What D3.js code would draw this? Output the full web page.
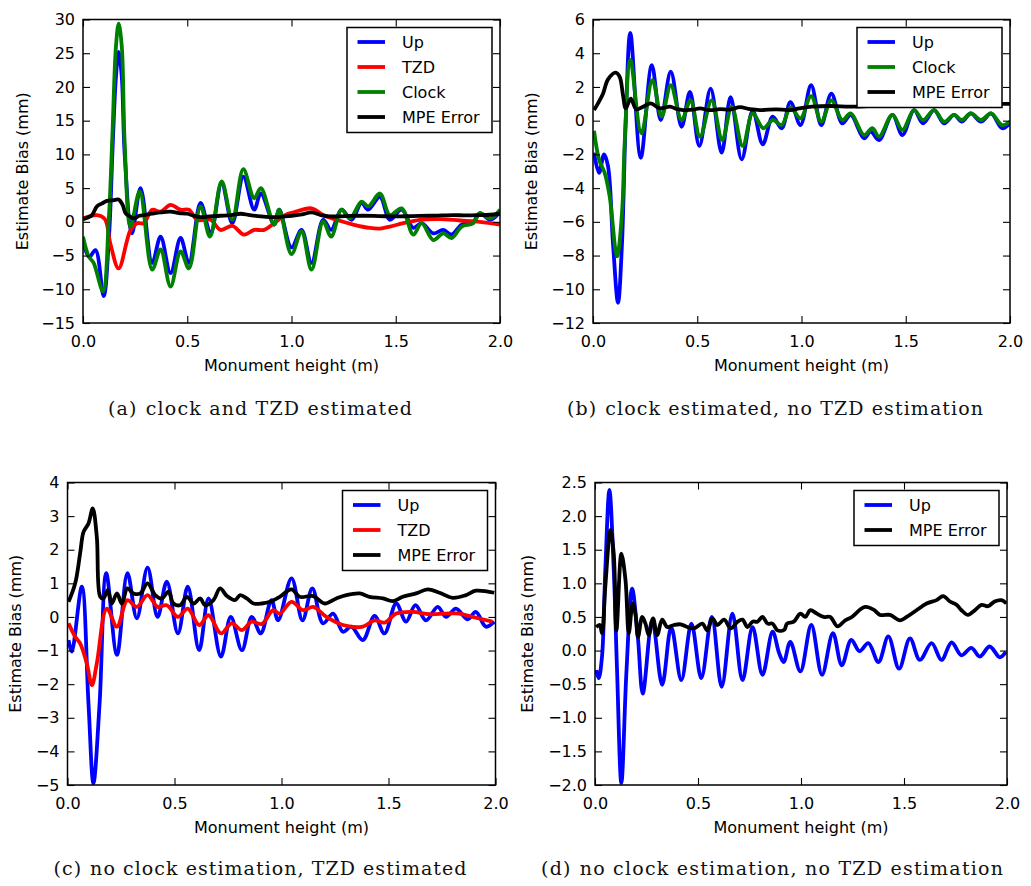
<!DOCTYPE html>
<html>
<head>
<meta charset="utf-8">
<script src="https://cdn.jsdelivr.net/npm/d3@7"></script>
<style>
  body { margin: 0; background: #fff; }
  svg { display: block; }
</style>
</head>
<body>
<svg id="fig" width="1031" height="886"></svg>
<script>
// ---- shared axis values ----
const xTicks = [0, 0.5, 1.0, 1.5, 2.0];
const aYTicks = [-15, -10, -5, 0, 5, 10, 15, 20, 25, 30];
const bYTicks = [-12, -10, -8, -6, -4, -2, 0, 2, 4, 6];
const cYTicks = [-5, -4, -3, -2, -1, 0, 1, 2, 3, 4];
const dYTicks = [-2.0, -1.5, -1.0, -0.5, 0.0, 0.5, 1.0, 1.5, 2.0, 2.5];

const seriesNames = ["Up", "TZD", "Clock", "MPE Error"];
const captions = [
  ["(a)", "clock and TZD estimated"],
  ["(b)", "clock estimated, no TZD estimation"],
  ["(c)", "no clock estimation, TZD estimated"],
  ["(d)", "no clock estimation, no TZD estimation"]
];

// ---- (a) clock and TZD estimated: [monument height m, bias mm] ----
const aUp = [[0.0,-3.0],[0.03,-5.2],[0.06,-4.2],[0.099,-11.0],[0.125,-2],[0.142,11],[0.158,21.5],[0.171,25.2],[0.186,21.5],[0.2,10],[0.235,-1.7],[0.276,5.0],[0.332,-6.1],[0.372,-2.2],[0.42,-7.6],[0.468,-2.4],[0.508,-6.1],[0.564,2.8],[0.612,-1.7],[0.665,5.7],[0.716,-0.2],[0.769,6.7],[0.821,1.8],[0.853,4.2],[0.917,-0.4],[0.941,1.8],[1.0,-3.8],[1.048,-1.2],[1.096,-6.1],[1.152,0.3],[1.19,-1.2],[1.24,1.8],[1.288,0.3],[1.336,2.8],[1.368,1.8],[1.424,3.7],[1.472,0.3],[1.528,1.8],[1.584,-0.9],[1.624,-0.2],[1.68,-1.7],[1.728,-1.2],[1.768,-1.9],[1.816,-0.4],[1.872,0.05],[1.904,1.3],[1.952,0.3],[2.0,1.5]];
const aTZD = [[0.0,0.5],[0.067,1.0],[0.105,0.4],[0.131,-3.2],[0.171,-6.9],[0.228,-1.2],[0.26,-0.2],[0.292,-0.2],[0.332,1.8],[0.372,1.5],[0.42,2.5],[0.468,1.8],[0.508,1.8],[0.548,0.3],[0.612,0.3],[0.66,-1.2],[0.716,-0.6],[0.772,-1.9],[0.821,-1.2],[0.869,-1.2],[0.917,-0.2],[0.97,1.0],[1.01,1.4],[1.096,2.0],[1.152,1.0],[1.216,0.3],[1.296,-0.4],[1.376,-0.9],[1.424,-1.0],[1.472,-0.7],[1.536,-0.2],[1.616,0.3],[1.712,0.4],[1.808,0.2],[1.904,0.0],[2.0,-0.4]];
const aClock = [[0.0,-2.2],[0.027,-5.1],[0.051,-6.1],[0.096,-10.3],[0.123,0],[0.14,12],[0.158,26],[0.171,29.4],[0.186,26],[0.2,11.6],[0.228,-0.7],[0.272,4.5],[0.332,-7.1],[0.372,-4.1],[0.42,-9.6],[0.468,-4.4],[0.508,-6.9],[0.564,2.3],[0.609,-2.2],[0.665,6.0],[0.716,0.3],[0.769,7.8],[0.821,3.5],[0.853,5.0],[0.917,-0.4],[0.941,1.8],[1.0,-4.8],[1.048,-1.4],[1.096,-7.1],[1.152,0.05],[1.19,-2.2],[1.24,1.8],[1.28,0.5],[1.336,3.0],[1.368,2.3],[1.424,4.2],[1.472,1.0],[1.528,2.0],[1.584,-1.9],[1.624,-0.2],[1.68,-2.7],[1.728,-1.7],[1.768,-2.4],[1.816,-0.7],[1.872,-0.2],[1.904,1.3],[1.952,0.5],[2.0,1.8]];
const aMPE = [[0.0,0.4],[0.02,0.6],[0.043,1.0],[0.067,2.3],[0.09,2.7],[0.115,3.1],[0.145,3.2],[0.171,3.3],[0.19,2.5],[0.204,1.3],[0.225,0.8],[0.244,0.5],[0.27,0.9],[0.292,1.0],[0.33,1.2],[0.372,1.4],[0.42,1.5],[0.46,1.3],[0.5,1.2],[0.53,0.9],[0.564,0.7],[0.61,0.8],[0.66,0.9],[0.71,1.0],[0.756,1.2],[0.8,1.0],[0.853,0.8],[0.9,0.7],[0.933,0.7],[0.97,0.8],[1.0,0.9],[1.05,1.1],[1.096,1.4],[1.14,1.0],[1.184,0.8],[1.26,0.85],[1.344,0.9],[1.42,0.85],[1.504,0.8],[1.58,0.85],[1.664,0.9],[1.72,0.95],[1.776,1.0],[1.84,0.95],[1.904,1.0],[1.95,1.05],[2.0,1.2]];

// ---- (b) clock estimated, no TZD estimation ----
const bUp = [[0.005,-1.9],[0.029,-3.1],[0.053,-2.0],[0.072,-2.7],[0.096,-7.3],[0.12,-10.8],[0.139,-7.3],[0.157,0.0],[0.179,5.2],[0.229,-2.2],[0.282,3.3],[0.325,0.04],[0.373,2.9],[0.425,-0.36],[0.465,1.7],[0.51,-1.5],[0.564,1.9],[0.617,-1.9],[0.66,1.4],[0.713,-2.3],[0.766,0.6],[0.814,-1.4],[0.862,0.24],[0.905,-0.45],[0.947,1.1],[0.995,-0.26],[1.046,2.1],[1.095,-0.26],[1.143,1.6],[1.196,-0.16],[1.236,0.34],[1.3,-1.05],[1.332,-0.65],[1.372,-1.15],[1.436,0.34],[1.484,-0.85],[1.54,0.63],[1.583,-0.16],[1.636,0.63],[1.684,-0.16],[1.732,0.34],[1.769,-0.06],[1.812,0.43],[1.861,-0.06],[1.909,0.43],[1.962,-0.45],[2.0,-0.16]];
const bClock = [[0.005,-0.6],[0.029,-2.3],[0.056,-3.1],[0.08,-4.5],[0.115,-8.05],[0.139,-5.5],[0.152,-1.3],[0.179,3.6],[0.232,-0.75],[0.285,2.4],[0.329,0.24],[0.373,2.1],[0.425,0.04],[0.468,1.2],[0.513,-0.95],[0.569,1.2],[0.62,-1.15],[0.665,0.83],[0.718,-1.5],[0.766,0.43],[0.817,-0.45],[0.862,0.04],[0.905,-0.26],[0.947,0.78],[0.995,0.14],[1.046,1.46],[1.095,-0.06],[1.143,1.2],[1.196,0.04],[1.236,0.43],[1.3,-0.85],[1.34,-0.45],[1.372,-0.95],[1.436,0.34],[1.484,-0.55],[1.54,0.63],[1.583,0.04],[1.636,0.63],[1.684,-0.06],[1.732,0.34],[1.769,0.04],[1.812,0.43],[1.861,0.04],[1.909,0.43],[1.962,-0.26],[2.0,-0.06]];
const bMPE = [[0.005,0.63],[0.024,1.03],[0.048,1.6],[0.072,2.45],[0.109,2.85],[0.128,2.6],[0.144,1.5],[0.157,0.73],[0.181,1.3],[0.208,0.67],[0.24,0.83],[0.277,1.03],[0.32,0.73],[0.369,0.83],[0.4,0.7],[0.433,0.63],[0.48,0.65],[0.513,0.73],[0.56,0.62],[0.609,0.69],[0.657,0.66],[0.705,0.8],[0.753,0.68],[0.801,0.63],[0.841,0.66],[0.881,0.67],[0.945,0.63],[0.99,0.73],[1.05,0.83],[1.14,0.87],[1.23,0.83],[1.3,0.85],[1.38,0.93],[1.45,0.9],[1.52,0.92],[1.6,0.95],[1.7,0.93],[1.8,0.97],[1.9,0.96],[1.96,0.99],[2.0,1.0]];

// ---- (c) no clock estimation, TZD estimated ----
const cUp = [[0.005,-0.69],[0.02,-1.03],[0.067,0.9],[0.098,-2.57],[0.121,-4.95],[0.15,-2.57],[0.181,1.3],[0.231,-1.13],[0.28,1.3],[0.324,-0.04],[0.374,1.47],[0.421,0.0],[0.464,1.05],[0.516,-0.49],[0.562,0.9],[0.615,-0.99],[0.659,0.55],[0.717,-1.18],[0.763,0.0],[0.815,-0.99],[0.861,0.0],[0.903,-0.49],[0.953,0.5],[0.984,-0.1],[1.047,1.15],[1.098,-0.1],[1.144,0.85],[1.194,-0.19],[1.241,0.1],[1.287,-0.44],[1.326,-0.29],[1.38,-0.69],[1.435,0.03],[1.481,-0.49],[1.536,0.4],[1.582,-0.14],[1.626,0.35],[1.675,-0.1],[1.73,0.3],[1.769,0.0],[1.815,0.25],[1.87,-0.07],[1.908,0.15],[1.955,-0.29],[1.994,-0.14]];
const cTZD = [[0.005,-0.19],[0.036,-0.59],[0.059,-0.79],[0.09,-1.38],[0.114,-2.03],[0.137,-1.38],[0.184,0.25],[0.231,-0.29],[0.28,0.5],[0.324,0.3],[0.374,0.65],[0.421,0.3],[0.464,0.35],[0.516,0.0],[0.562,0.25],[0.615,-0.24],[0.659,0.05],[0.717,-0.49],[0.768,-0.19],[0.815,-0.39],[0.861,-0.14],[0.908,-0.21],[0.961,0.2],[0.992,0.1],[1.047,0.45],[1.101,0.2],[1.148,0.3],[1.21,0.0],[1.287,-0.24],[1.38,-0.29],[1.435,-0.1],[1.481,-0.17],[1.536,0.1],[1.613,0.15],[1.691,0.08],[1.769,0.1],[1.831,0.1],[1.893,0.0],[1.986,-0.14]];
const cMPE = [[0.005,0.45],[0.036,1.0],[0.059,1.89],[0.075,2.53],[0.098,2.78],[0.118,3.23],[0.137,2.38],[0.153,0.6],[0.168,0.55],[0.188,0.8],[0.207,0.4],[0.231,0.7],[0.254,0.4],[0.28,0.85],[0.308,0.7],[0.34,0.7],[0.374,1.0],[0.41,0.65],[0.441,0.55],[0.472,0.75],[0.495,0.4],[0.526,0.35],[0.558,0.6],[0.589,0.4],[0.62,0.55],[0.643,0.35],[0.682,0.5],[0.713,0.85],[0.745,0.62],[0.783,0.5],[0.807,0.65],[0.838,0.55],[0.869,0.4],[0.908,0.4],[0.946,0.45],[0.992,0.6],[1.047,0.82],[1.085,0.6],[1.148,0.62],[1.202,0.4],[1.256,0.55],[1.303,0.65],[1.365,0.7],[1.411,0.6],[1.474,0.55],[1.52,0.47],[1.567,0.6],[1.629,0.7],[1.683,0.82],[1.738,0.72],[1.8,0.57],[1.862,0.65],[1.908,0.78],[1.994,0.72]];

// ---- (d) no clock estimation, no TZD estimation ----
const dUp = [[0.006,-0.29],[0.018,-0.41],[0.034,-0.09],[0.05,1.2],[0.07,2.39],[0.091,1.2],[0.107,-0.29],[0.128,-1.97],[0.153,-0.29],[0.18,0.92],[0.208,0.2],[0.232,-0.64],[0.278,0.45],[0.326,-0.51],[0.37,0.35],[0.419,-0.44],[0.468,0.4],[0.516,-0.41],[0.567,0.5],[0.615,-0.54],[0.667,0.55],[0.716,-0.44],[0.765,0.35],[0.813,-0.36],[0.862,0.28],[0.894,-0.04],[0.916,-0.17],[0.948,0.13],[0.997,-0.31],[1.05,0.38],[1.102,-0.36],[1.155,0.26],[1.198,-0.22],[1.244,0.16],[1.284,-0.01],[1.327,0.11],[1.376,-0.17],[1.424,0.21],[1.476,-0.27],[1.529,0.18],[1.577,-0.14],[1.634,0.11],[1.682,-0.14],[1.731,0.12],[1.779,-0.07],[1.827,0.04],[1.868,-0.09],[1.916,0.06],[1.965,-0.1],[1.994,-0.02]];
const dMPE = [[0.006,0.35],[0.023,0.38],[0.034,0.26],[0.05,0.95],[0.075,1.79],[0.091,1.44],[0.104,0.3],[0.128,1.44],[0.148,1.05],[0.164,0.26],[0.183,0.7],[0.196,0.55],[0.209,0.2],[0.229,0.5],[0.245,0.4],[0.261,0.23],[0.282,0.48],[0.302,0.23],[0.326,0.46],[0.351,0.35],[0.383,0.38],[0.416,0.39],[0.448,0.35],[0.48,0.33],[0.521,0.4],[0.545,0.3],[0.57,0.48],[0.594,0.38],[0.627,0.46],[0.659,0.33],[0.692,0.43],[0.716,0.46],[0.74,0.35],[0.765,0.43],[0.789,0.43],[0.813,0.5],[0.838,0.4],[0.862,0.4],[0.886,0.3],[0.919,0.31],[0.932,0.4],[0.965,0.43],[0.997,0.55],[1.021,0.5],[1.045,0.6],[1.077,0.55],[1.11,0.5],[1.142,0.5],[1.177,0.36],[1.215,0.45],[1.247,0.5],[1.287,0.61],[1.311,0.65],[1.352,0.61],[1.384,0.53],[1.432,0.53],[1.481,0.45],[1.513,0.5],[1.561,0.6],[1.61,0.7],[1.658,0.75],[1.69,0.81],[1.723,0.73],[1.755,0.68],[1.779,0.6],[1.811,0.53],[1.844,0.6],[1.876,0.68],[1.908,0.66],[1.94,0.73],[1.973,0.75],[1.997,0.7]];

// ---- styling / layout ----
const colorOf = { "Up": "#0000ff", "TZD": "#ff0000", "Clock": "#008000", "MPE Error": "#000000" };
const FONT = '"DejaVu Sans", sans-serif';
const SERIF = '"DejaVu Serif", "Liberation Serif", serif';

const panels = [
  { key: "a", box: [83, 19.5, 500, 323], yDomain: [-15, 30], yTicks: aYTicks, yFmt: d3.format("d"),
    series: [["Up", aUp], ["TZD", aTZD], ["Clock", aClock], ["MPE Error", aMPE]],
    ylabelX: 28, caption: captions[0], capX: 260, capY: 415, capW: 304 },
  { key: "b", box: [593, 19.5, 1010, 323], yDomain: [-12, 6], yTicks: bYTicks, yFmt: d3.format("d"),
    series: [["Up", bUp], ["Clock", bClock], ["MPE Error", bMPE]],
    ylabelX: 537, caption: captions[1], capX: 775, capY: 415, capW: 416 },
  { key: "c", box: [67.5, 482.5, 495.5, 785], yDomain: [-5, 4], yTicks: cYTicks, yFmt: d3.format("d"),
    series: [["Up", cUp], ["TZD", cTZD], ["MPE Error", cMPE]],
    ylabelX: 21, caption: captions[2], capX: 260, capY: 875, capW: 413 },
  { key: "d", box: [595, 482.5, 1007, 785], yDomain: [-2, 2.5], yTicks: dYTicks, yFmt: d3.format(".1f"),
    series: [["Up", dUp], ["MPE Error", dMPE]],
    ylabelX: 533, caption: captions[3], capX: 772, capY: 875, capW: 462 }
];

const svg = d3.select("#fig");

panels.forEach(p => {
  const [L, T, R, B] = p.box;
  const x = d3.scaleLinear().domain([0, 2]).range([L, R]);
  const y = d3.scaleLinear().domain(p.yDomain).range([B, T]);
  const g = svg.append("g").attr("class", "panel-" + p.key);

  g.append("clipPath").attr("id", "clip-" + p.key)
    .append("rect").attr("x", L).attr("y", T).attr("width", R - L).attr("height", B - T);

  // data lines
  const line = d3.line()
    .x(d => x(d[0])).y(d => y(d[1]))
    .curve(d3.curveCatmullRom.alpha(0.5));
  const lines = g.append("g").attr("clip-path", `url(#clip-${p.key})`);
  p.series.forEach(([name, data]) => {
    lines.append("path").datum(data)
      .attr("d", line)
      .attr("fill", "none")
      .attr("stroke", colorOf[name])
      .attr("stroke-width", 3.8)
      .attr("stroke-linejoin", "round")
      .attr("stroke-linecap", "butt");
  });

  // axes with inward ticks on all four sides
  const styleAxis = sel => {
    sel.select(".domain").remove();
    sel.selectAll(".tick line").attr("stroke", "#000").attr("stroke-width", 1.1);
    sel.selectAll(".tick text").attr("fill", "#000")
      .style("font-family", FONT).style("font-size", "16px");
  };
  g.append("g").attr("transform", `translate(0,${B})`)
    .call(d3.axisBottom(x).tickValues(xTicks).tickFormat(d3.format(".1f"))
      .tickSizeInner(-7).tickSizeOuter(0).tickPadding(12.5))
    .call(styleAxis);
  g.append("g").attr("transform", `translate(0,${T})`)
    .call(d3.axisTop(x).tickValues(xTicks).tickFormat("").tickSizeInner(-7).tickSizeOuter(0))
    .call(styleAxis);
  g.append("g").attr("transform", `translate(${L},0)`)
    .call(d3.axisLeft(y).tickValues(p.yTicks).tickFormat(p.yFmt)
      .tickSizeInner(-7).tickSizeOuter(0).tickPadding(8))
    .call(styleAxis);
  g.append("g").attr("transform", `translate(${R},0)`)
    .call(d3.axisRight(y).tickValues(p.yTicks).tickFormat("").tickSizeInner(-7).tickSizeOuter(0))
    .call(styleAxis);

  // frame
  g.append("rect").attr("x", L).attr("y", T).attr("width", R - L).attr("height", B - T)
    .attr("fill", "none").attr("stroke", "#000").attr("stroke-width", 1.5);

  // axis titles
  g.append("text")
    .attr("x", (L + R) / 2).attr("y", B + 48)
    .attr("text-anchor", "middle")
    .style("font-family", FONT).style("font-size", "16px")
    .text("Monument height (m)");
  g.append("text")
    .attr("transform", `translate(${p.ylabelX},${(T + B) / 2}) rotate(-90)`)
    .attr("text-anchor", "middle")
    .style("font-family", FONT).style("font-size", "16px")
    .text("Estimate Bias (mm)");

  // legend, upper right
  const n = p.series.length;
  const lw = 145, lh = 25 * n + 5;
  const lx = R - 8 - lw, ly = T + 8;
  const leg = g.append("g");
  leg.append("rect").attr("x", lx).attr("y", ly).attr("width", lw).attr("height", lh)
    .attr("fill", "#fff").attr("stroke", "#000").attr("stroke-width", 1.5);
  p.series.forEach(([name], i) => {
    const cy = ly + 14.5 + 25 * i;
    leg.append("line").attr("x1", lx + 10.5).attr("x2", lx + 38).attr("y1", cy).attr("y2", cy)
      .attr("stroke", colorOf[name]).attr("stroke-width", 3.8);
    leg.append("text").attr("x", lx + 55).attr("y", cy).attr("dy", "0.36em")
      .style("font-family", FONT).style("font-size", "16px")
      .text(name);
  });

  // sub-figure caption
  const cap = svg.append("text")
    .attr("x", p.capX).attr("y", p.capY)
    .attr("text-anchor", "middle")
    .attr("textLength", p.capW).attr("lengthAdjust", "spacing")
    .style("font-family", SERIF).style("font-size", "19px").attr("fill", "#111");
  cap.append("tspan").text(p.caption[0]);
  cap.append("tspan").attr("dx", 8).text(p.caption[1]);
});
</script>
</body>
</html>
